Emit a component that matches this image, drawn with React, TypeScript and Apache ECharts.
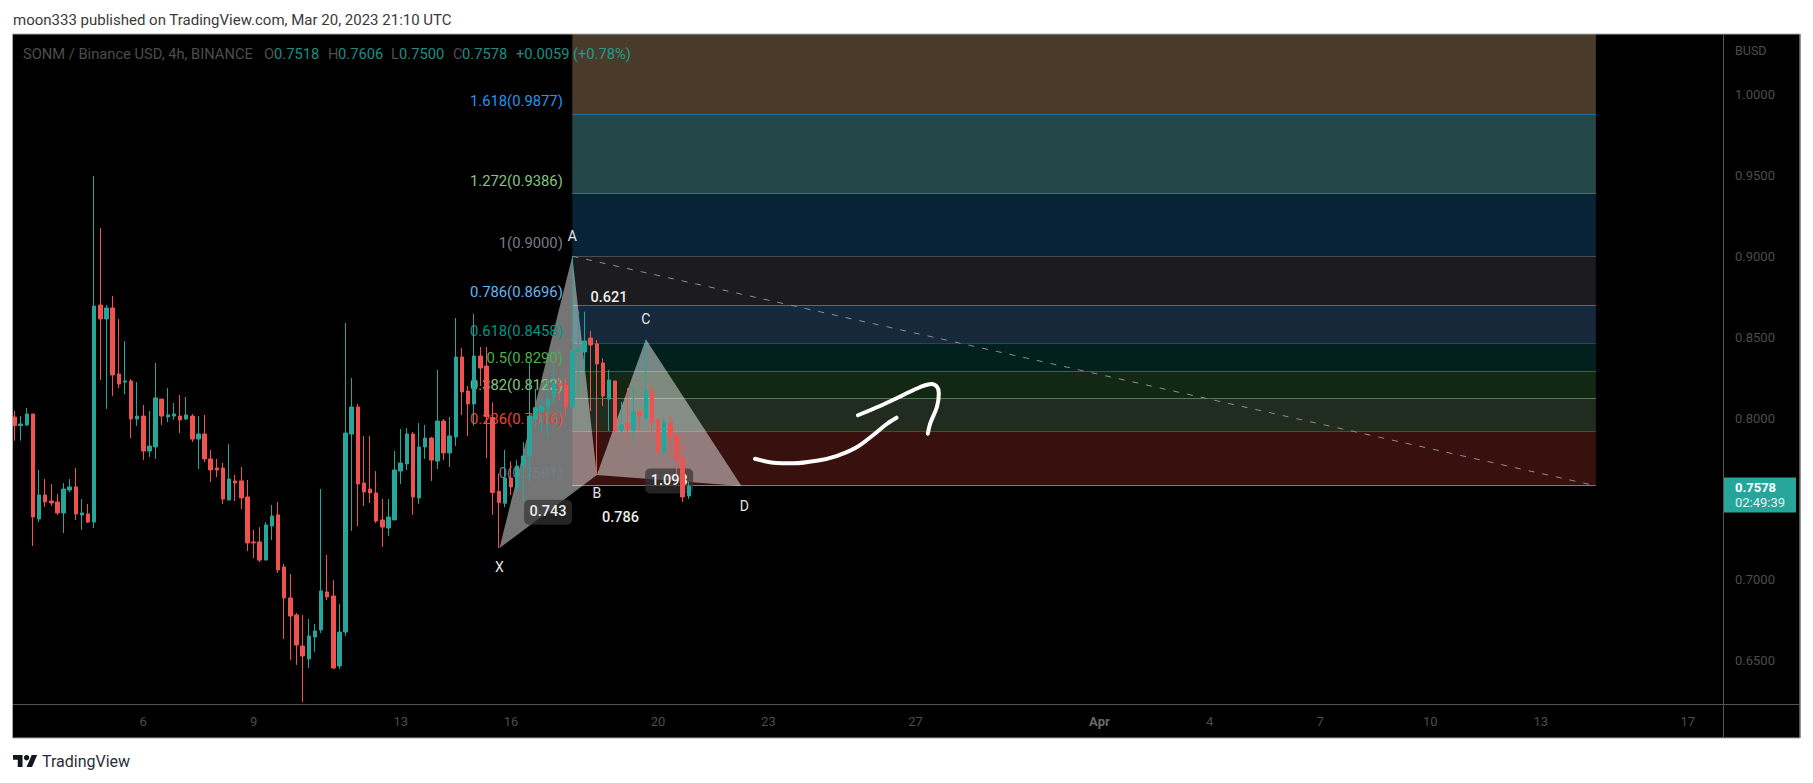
import React, { useEffect, useRef } from "react";
import * as echarts from "echarts";

// [open, close, low, high] for each 4h candle
const candles: number[][] = [
  [.8006,.7953,.7860,.8043],[.7953,.7963,.7860,.8012],[.7957,.8025,.7951,.8062],[.8025,.7388,.7209,.8025],
  [.7376,.7524,.7357,.7679],[.7524,.7481,.7450,.7623],[.7487,.7475,.7456,.7592],[.7481,.7413,.7401,.7530],
  [.7413,.7561,.7289,.7598],[.7555,.7574,.7543,.7623],[.7574,.7407,.7370,.7691],[.7401,.7413,.7308,.7499],
  [.7407,.7357,.7351,.7469],[.7357,.8692,.7320,.9496],[.8698,.8612,.8235,.9174],[.8612,.8680,.8056,.8698],
  [.8680,.8266,.8136,.8754],[.8272,.8210,.8185,.8612],[.8222,.8229,.8148,.8476],[.8229,.7994,.7876,.8241],
  [.7994,.8012,.7951,.8222],[.8012,.7796,.7740,.8080],[.7796,.7827,.7759,.8043],[.7821,.8124,.7747,.8340],
  [.8117,.8012,.7957,.8117],[.8006,.8019,.7975,.8185],[.8012,.8025,.7988,.8093],[.8012,.7988,.7907,.8142],
  [.7994,.8019,.7988,.8130],[.8012,.7870,.7852,.8025],[.7870,.7901,.7685,.8012],[.7901,.7747,.7728,.8019],
  [.7747,.7679,.7604,.7802],[.7691,.7679,.7635,.7747],[.7691,.7499,.7469,.7722],[.7493,.7623,.7493,.7839],
  [.7611,.7598,.7487,.7648],[.7611,.7506,.7438,.7697],[.7512,.7228,.7178,.7617],[.7234,.7228,.7135,.7308],
  [.7234,.7122,.7110,.7326],[.7122,.7339,.7122,.7357],[.7333,.7394,.7246,.7462],[.7401,.7061,.7042,.7481],
  [.7079,.6888,.6634,.7098],[.6888,.6776,.6504,.7036],[.6783,.6597,.6474,.6795],[.6591,.6529,.6245,.6783],
  [.6511,.6653,.6455,.6758],[.6647,.6684,.6554,.6727],[.6690,.6931,.6671,.7561],[.6925,.6894,.6875,.7153],
  [.6900,.6455,.6449,.6999],[.6467,.6677,.6449,.6850],[.6677,.7907,.6653,.8587],[.7901,.8068,.7302,.8247],
  [.8068,.7592,.7333,.8087],[.7598,.7543,.7456,.7889],[.7561,.7537,.7475,.7889],[.7537,.7363,.7351,.7672],
  [.7370,.7326,.7203,.7499],[.7320,.7388,.7271,.7499],[.7370,.7679,.7370,.7796],[.7672,.7722,.7592,.7932],
  [.7716,.7901,.7679,.7938],[.7901,.7512,.7401,.7913],[.7506,.7821,.7469,.7969],[.7821,.7876,.7747,.7957],
  [.7876,.7740,.7611,.7883],[.7734,.7981,.7685,.8297],[.7981,.7784,.7740,.7994],[.7784,.7889,.7697,.8006],
  [.7883,.8377,.7827,.8618],[.8377,.8161,.8019,.8433],[.8167,.8087,.7889,.8198],[.8087,.8383,.7951,.8643],
  [.8383,.8309,.8198,.8439],[.8321,.8008,.7751,.8439],[.8004,.7539,.7401,.8097],[.7547,.7477,.7197,.7658],
  [.7473,.7629,.7448,.7802],[.7629,.7574,.7524,.7732],[.7569,.7703,.7534,.7740],[.7710,.7765,.7483,.7850],
  [.7765,.8012,.7607,.8338],[.7992,.8064,.7942,.8179],[.8041,.8074,.7909,.8117],[.8068,.8117,.7876,.8235],
  [.8130,.8210,.8099,.8328],[.8214,.8198,.8111,.8243],[.8204,.8068,.8019,.8247],[.8068,.8414,.8066,.9000],
  [.8414,.8431,.8142,.8657],[.8408,.8476,.8286,.8657],[.8494,.8451,.8043,.8538],[.8457,.8334,.7648,.8482],
  [.8340,.8136,.8074,.8369],[.8117,.8235,.7920,.8297],[.8229,.7920,.7909,.8229],[.7926,.7957,.7909,.8099],
  [.7963,.7932,.7864,.8185],[.7926,.8037,.7858,.8192],[.8037,.8012,.7920,.8049],[.8000,.8167,.7988,.8482],
  [.8167,.7975,.7878,.8214],[.7988,.7790,.7778,.8000],[.7790,.7975,.7778,.8000],[.7969,.7883,.7771,.8019],
  [.7895,.7740,.7654,.7901],[.7753,.7512,.7481,.7852],[.7518,.7578,.7500,.7606],
];

const slotCount = 279;
const dateTickSlots = [21, 39, 63, 81, 105, 123, 147, 177, 195, 213, 231, 249, 273];
const dateTickLabels = ["6", "9", "13", "16", "20", "23", "27", "Apr", "4", "7", "10", "13", "17"];
const priceTicks = [0.65, 0.7, 0.8, 0.85, 0.9, 0.95, 1.0];

const fibStart = 91;
const fibEnd = 258;
const fibRatios = ["1.618", "1.272", "1", "0.786", "0.618", "0.5", "0.382", "0.236", "0"];
const fibPrices = [0.9877, 0.9386, 0.9, 0.8696, 0.8458, 0.829, 0.8122, 0.7916, 0.7581];
const fibLineColors = ["#2196f3", "#81c784", "#787b86", "#64b5f6", "#009688", "#4caf50", "#81c784", "#f44336", "#787b86"];
const fibBandColors = ["#4a3a2a", "#24474a", "#082238", "#1c1c1e", "#16283a", "#02201e", "#132812", "#202c20", "#38100e"];

const patternNames = ["X", "A", "B", "C", "D"];
const patternSlots = [79.1, 91, 95, 103, 118.6];
const patternPrices = [0.7195, 0.9, 0.7647, 0.8486, 0.758];
const patternLabelShift = [19, -20, 18, -20, 20];
const patternLabelNudge = [0, 0, 0, 0, 3];

// ratio label, endpoints in the pattern, has a badge
const ratioLabels: [string, number, number, boolean][] = [
  ["0.743", 0, 2, true],
  ["0.621", 1, 3, false],
  ["0.786", 0, 4, false],
  ["1.093", 2, 4, true],
];

const trendSlots = [91, 258];
const trendPrices = [0.9, 0.7581];

const arrowBody: number[][] = [
  [120.8, .7748], [123.8, .7724], [127.1, .772], [130.9, .7736], [134.1, .7765],
  [137.4, .7819], [140.1, .7895], [142.3, .7963], [143.9, .8002],
];
const arrowHead: number[][] = [
  [137.6, .8017], [141.2, .8074], [145, .8142], [147.7, .819], [149.6, .821],
  [150.5, .8193], [150.8, .8153], [150.5, .807], [149.4, .7967], [149, .7903],
];

const headerText = "moon333 published on TradingView.com, Mar 20, 2023 21:10 UTC";
const legendParts: [string, number, string][] = [
  ["SONM / Binance USD, 4h, BINANCE", 23, "#4d4d4d"],
  ["O", 264, "#4d4d4d"], ["0.7518", 274, "#1c8f85"],
  ["H", 328, "#4d4d4d"], ["0.7606", 338, "#1c8f85"],
  ["L", 391, "#4d4d4d"], ["0.7500", 399, "#1c8f85"],
  ["C", 453, "#4d4d4d"], ["0.7578", 462, "#1c8f85"],
  ["+0.0059", 516, "#1c8f85"], ["(+0.78%)", 573, "#1c9a8e"],
];

const FONT = "Roboto, sans-serif";
const UP = "#26a69a";
const DOWN = "#ef5350";
const DIM = "#4d4d4d";

echarts.graphic.registerShape(
  "tvlogo",
  echarts.graphic.extendPath("M14 22H7V11H0V4h14v18zM28 22h-8l7.5-18h8L28 22z", {}) as any
);

function makeOption() {
  const categories = Array.from({ length: slotCount }, (_, i) => {
    const t = dateTickSlots.indexOf(i);
    return t >= 0 ? dateTickLabels[t] : "";
  });

  const bandData = fibRatios.map((_, i) => [i]);
  const patternPt = (api: any, i: number) => api.coord([patternSlots[i], patternPrices[i]]);

  const renderBand = (_: any, api: any) => {
    const i = api.value(0);
    const [x0, yRaw] = api.coord([fibStart, fibPrices[i]]);
    const yBottom = Math.floor(yRaw) + 0.5;
    const top = i === 0 ? 1.0373 : fibPrices[i - 1];
    const [x1, yTopRaw] = api.coord([fibEnd, top]);
    const yTop = i === 0 ? yTopRaw : Math.floor(yTopRaw) + 0.5;
    const children: any[] = [
      { type: "rect", shape: { x: x0, y: yTop, width: x1 - x0, height: yBottom - yTop }, style: { fill: fibBandColors[i] } },
      { type: "line", shape: { x1: x0, y1: yBottom, x2: x1, y2: yBottom }, style: { stroke: fibLineColors[i], lineWidth: 1 } },
    ];
    return { type: "group", children };
  };

  const renderTriangles = (_: any, api: any) => {
    const tri = (a: number, b: number, c: number) => ({
      type: "polygon",
      shape: { points: [patternPt(api, a), patternPt(api, b), patternPt(api, c)] },
      style: { fill: "rgba(255,255,255,0.46)" },
    });
    return { type: "group", children: [tri(0, 1, 2), tri(2, 3, 4)] };
  };

  const renderTexts = (_: any, api: any) => {
    const children: any[] = [];
    fibRatios.forEach((r, i) => {
      const [x, y] = api.coord([fibStart, fibPrices[i]]);
      children.push({
        type: "text", x: x - 9.5, y: y - 13,
        style: { text: `${r}(${fibPrices[i].toFixed(4)})`, fill: fibLineColors[i], font: `14.8px ${FONT}`, align: "right", verticalAlign: "middle" },
      });
    });
    patternNames.forEach((n, i) => {
      const [x, y] = patternPt(api, i);
      children.push({
        type: "text", x: x + patternLabelNudge[i], y: y + patternLabelShift[i],
        style: { text: n, fill: "#e6e6e6", font: `14px ${FONT}`, align: "center", verticalAlign: "middle" },
      });
    });
    ratioLabels.forEach(([t, a, b, badge]) => {
      const pa = patternPt(api, a);
      const pb = patternPt(api, b);
      const x = (pa[0] + pb[0]) / 2;
      const y = (pa[1] + pb[1]) / 2;
      if (badge) {
        children.push({
          type: "rect",
          shape: { x: x - 24, y: y - 12, width: 48, height: 25, r: 5 },
          style: { fill: "rgba(51,51,51,0.7)" },
        });
      }
      children.push({
        type: "text", x, y,
        style: { text: t, fill: "#ececec", font: `500 14.5px ${FONT}`, align: "center", verticalAlign: "middle" },
      });
    });
    return { type: "group", children };
  };

  const arrowLine = (data: number[][]) => ({
    type: "line", xAxisIndex: 1, z: 4, data, smooth: 0.35, showSymbol: false, symbol: "none",
    lineStyle: { color: "#ffffff", width: 4, cap: "round", join: "round" },
    silent: true,
  });

  return {
    animation: false,
    backgroundColor: "#ffffff",
    textStyle: { fontFamily: FONT },
    grid: { left: 11.5, right: 91.5, top: 34, bottom: 79, containLabel: false },
    xAxis: [
      {
        type: "category", data: categories, boundaryGap: true,
        axisLine: { show: false }, axisTick: { show: false }, splitLine: { show: false },
        axisLabel: {
          show: true, interval: (_: number, v: string) => v !== "", color: DIM, fontSize: 13, margin: 11, fontFamily: FONT,
          hideOverlap: false,
          formatter: (v: string) => (v === "Apr" ? "{b|Apr}" : v),
          rich: { b: { color: "#6a6a6a", fontSize: 13, fontWeight: "bold", fontFamily: FONT } },
        },
      },
      { type: "value", min: -0.5, max: slotCount - 0.5, show: false },
    ],
    yAxis: {
      type: "value", position: "right", min: 0.62324, max: 1.03733,
      axisLine: { show: false }, axisTick: { show: false }, splitLine: { show: false },
      axisLabel: {
        show: true, customValues: priceTicks, color: DIM, fontSize: 13, fontFamily: FONT,
        margin: 13.5, formatter: (v: number) => v.toFixed(4), hideOverlap: false,
      },
    },
    series: [
      { type: "custom", xAxisIndex: 1, z: 1, data: bandData, renderItem: renderBand, silent: true, clip: false },
      { type: "line", xAxisIndex: 1, z: 1.5, data: trendSlots.map((s, i) => [s, trendPrices[i]]), showSymbol: false, symbol: "none", lineStyle: { color: "#8a8d96", width: 1, type: [6, 8] }, silent: true },
      { type: "custom", xAxisIndex: 1, z: 2, data: [[0]], renderItem: renderTriangles, silent: true, clip: false },
      { type: "custom", xAxisIndex: 1, z: 3, data: [[0]], renderItem: renderTexts, silent: true, clip: false },
      arrowLine(arrowBody),
      arrowLine(arrowHead),
      {
        type: "candlestick", xAxisIndex: 0, z: 5, data: candles, barWidth: 4,
        itemStyle: { color: UP, color0: DOWN, borderColor: UP, borderColor0: DOWN, borderWidth: 1 },
        silent: true,
      },
    ],
    graphic: { elements: [
      { type: "rect", z: -5, silent: true, shape: { x: 12.5, y: 34, width: 1788, height: 704 }, style: { fill: "#000000" } },
      { type: "rect", z: 50, silent: true, shape: { x: 12.5, y: 34, width: 1787.5, height: 704 }, style: { fill: "none", stroke: "#a9acb5", lineWidth: 1 } },
      { type: "line", z: 50, silent: true, shape: { x1: 1723.5, y1: 34, x2: 1723.5, y2: 738 }, style: { stroke: "#555555", lineWidth: 1 } },
      { type: "line", z: 50, silent: true, shape: { x1: 13, y1: 704.5, x2: 1800, y2: 704.5 }, style: { stroke: "#555555", lineWidth: 1 } },
      { type: "text", z: 50, x: 13, y: 20, silent: true, style: { text: headerText, fill: "#3a3a3a", font: `15px ${FONT}`, verticalAlign: "middle" } },
      ...legendParts.map(([t, x, c]) => ({
        type: "text", z: 50, x, y: 54, silent: true, style: { text: t, fill: c, font: `14.7px ${FONT}`, verticalAlign: "middle" },
      })),
      { type: "text", z: 50, x: 1735, y: 50, silent: true, style: { text: "BUSD", fill: DIM, font: `12.5px ${FONT}`, verticalAlign: "middle" } },
      { type: "rect", z: 50, silent: true, shape: { x: 1724, y: 477.5, width: 72, height: 35 }, style: { fill: UP } },
      { type: "text", z: 51, x: 1735, y: 487, silent: true, style: { text: "0.7578", fill: "#ffffff", font: `bold 13px ${FONT}`, verticalAlign: "middle" } },
      { type: "text", z: 51, x: 1735, y: 502.5, silent: true, style: { text: "02:49:39", fill: "#e4f3f1", font: `13px ${FONT}`, verticalAlign: "middle" } },
      { type: "tvlogo", z: 50, x: 13, y: 752.3, scaleX: 0.68, scaleY: 0.67, silent: true, style: { fill: "#131722" } },
      { type: "circle", z: 50, silent: true, shape: { cx: 13 + 20 * 0.68, cy: 752.3 + 8 * 0.67, r: 2.7 }, style: { fill: "#131722" } },
      { type: "text", z: 50, x: 42, y: 761, silent: true, style: { text: "TradingView", fill: "#2a2e39", font: `16px ${FONT}`, verticalAlign: "middle" } },
    ] },
  };
}

export default function App() {
  const ref = useRef<HTMLDivElement>(null);
  useEffect(() => {
    const chart = echarts.init(ref.current!, undefined, { renderer: "svg" });
    chart.setOption(makeOption() as any);
    return () => chart.dispose();
  }, []);
  return <div ref={ref} style={{ position: "fixed", left: 0, top: 0, width: 1813, height: 783 }} />;
}
